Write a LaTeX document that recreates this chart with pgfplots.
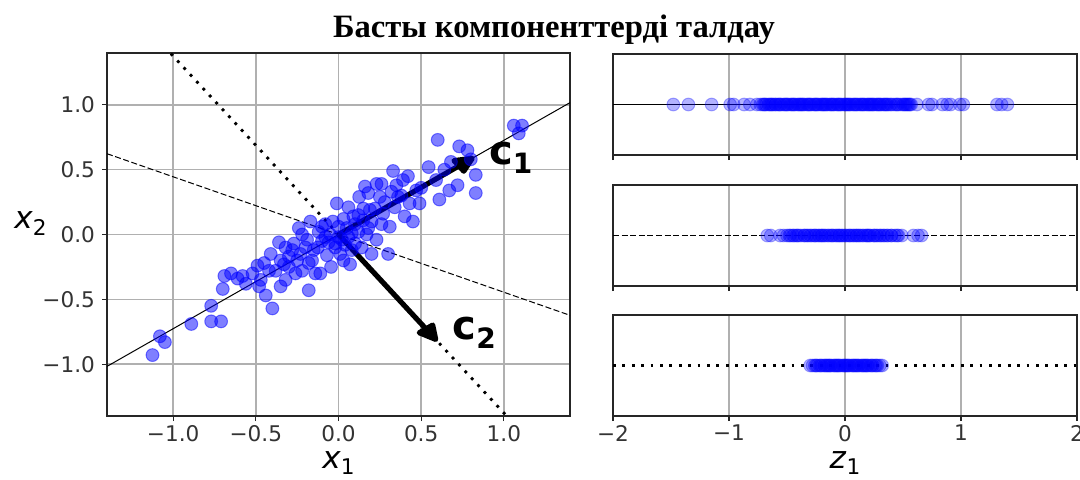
\documentclass[border=0pt]{standalone}
\usepackage{fontspec}
\setmainfont{DejaVu Sans}
\newfontfamily\titlefont{Liberation Serif}
\usepackage{pgfplots}
\pgfplotsset{compat=1.18}
\definecolor{mblue}{rgb}{0,0,1}
\definecolor{gridc}{RGB}{176,176,176}
\tikzset{lbl/.style={font=\fontsize{15.5}{18}\selectfont}}
\pgfplotsset{
  base/.style={
    scale only axis, anchor=south west,
    tick align=outside, xtick pos=lower, ytick pos=left,
    major tick length=2.5pt,
    tick style={black!85, line width=0.6pt},
    axis line style={black!85, line width=0.8pt},
    grid style={gridc, line width=0.7pt},
    tick label style={font=\fontsize{10.8}{12}\selectfont, text=black!80},
    xticklabel style={inner sep=1.8pt},
  },
  rpts/.style={only marks, mark=*, mark size=3.2pt, color=mblue, mark options={fill opacity=0.3, draw opacity=0.3, line width=0.5pt}},
}
\newcommand{\sublabel}[2]{\textit{#1}\raisebox{-0.22em}{\fontsize{10.8}{12}\selectfont #2}}
\newcommand{\cvec}[1]{{\fontsize{20}{23}\selectfont\bfseries c\raisebox{-0.22em}{\fontsize{14}{16}\selectfont #1}}}
\begin{document}
\begin{tikzpicture}
\path[use as bounding box] (0,0) rectangle (540pt,239.5pt);
\node[anchor=base, font=\titlefont\bfseries\fontsize{16.3}{19}\selectfont] at (277pt,221pt) {Басты компоненттерді талдау};
% left panel
\begin{axis}[base, at={(53.5pt,31.5pt)}, width=231.5pt, height=181.5pt,
  xmin=-1.4, xmax=1.4, ymin=-1.4, ymax=1.4,
  xtick={-1,-0.5,0,0.5,1}, xticklabels={−1.0,−0.5,0.0,0.5,1.0},
  ytick={-1,-0.5,0,0.5,1}, yticklabels={−1.0,−0.5,0.0,0.5,1.0},
  grid=major,
  xlabel={\sublabel{x}{1}}, ylabel={\sublabel{x}{2}},
  xlabel style={lbl, at={(axis description cs:0.5,0)}, anchor=base, inner sep=0pt, yshift=-26pt},
  ylabel style={lbl, rotate=-90, at={(axis description cs:0,0.5)}, anchor=base east, inner sep=0pt, xshift=-30pt, yshift=3pt},
  clip=true]
\addplot[black, line width=0.5pt] coordinates {(-1.4,-1.0172) (1.4,1.0172)};
\addplot[black, line width=0.5pt, dash pattern=on 3pt off 1.3pt] coordinates {(-1.4,0.6233) (1.4,-0.6233)};
\addplot[black, line width=1.4pt, dash pattern=on 1.4pt off 3.3pt] coordinates {(-1.4,1.9269) (1.4,-1.9269)};
\addplot[only marks, mark=*, mark size=3.2pt, color=mblue, mark options={fill opacity=0.5, draw opacity=0.5, line width=0.5pt}] table {
-1.125 -0.93
-1.08 -0.785
-1.05 -0.83
-0.89 -0.69
-0.77 -0.55
-0.77 -0.67
-0.71 -0.67
-0.70 -0.42
-0.69 -0.32
-0.65 -0.30
-0.61 -0.34
-0.58 -0.32
-0.56 -0.38
-0.49 -0.24
-0.48 -0.40
-0.47 -0.35
-0.44 -0.47
-0.41 -0.15
-0.40 -0.57
-0.38 -0.28
-0.36 -0.06
-0.35 -0.40
-0.33 -0.23
-0.32 -0.35
-0.30 -0.17
-0.27 -0.07
-0.26 -0.30
-0.24 0.05
-0.23 -0.15
-0.22 -0.28
-0.19 -0.04
-0.18 -0.43
-0.17 0.10
-0.16 -0.20
-0.14 -0.30
-0.125 -0.10
-0.11 -0.30
-0.10 0.06
-0.08 -0.02
-0.07 -0.16
-0.045 -0.25
-0.034 0.10
-0.02 -0.07
-0.01 0.24
0.0 0.06
0.01 -0.15
0.02 -0.04
0.03 -0.20
0.06 0.21
0.07 -0.23
0.08 0.01
0.09 0.14
0.10 -0.07
0.125 0.29
0.14 -0.10
0.15 0.11
0.16 0.37
0.17 0.0
0.18 0.32
0.19 0.19
0.20 -0.15
0.23 0.39
0.23 -0.04
0.25 0.29
0.26 0.39
0.27 0.16
0.30 -0.15
0.31 0.06
0.32 0.33
0.33 0.49
0.34 0.21
0.36 0.29
0.39 0.42
0.40 0.14
0.43 0.24
0.45 0.10
0.47 0.34
0.49 0.24
0.545 0.52
0.59 0.42
0.60 0.73
0.61 0.27
0.64 0.50
0.67 0.34
0.68 0.56
0.72 0.38
0.73 0.68
0.78 0.65
0.80 0.58
0.83 0.46
0.83 0.32
1.06 0.84
1.09 0.78
1.11 0.84
-0.20 -0.10
-0.05 0.00
0.05 0.05
-0.10 -0.05
0.00 -0.02
-0.15 -0.12
0.10 0.08
0.12 0.02
-0.25 -0.20
-0.30 -0.25
0.20 0.10
0.22 0.20
-0.12 0.02
0.03 0.12
0.15 0.20
-0.02 -0.10
0.08 -0.12
-0.35 -0.20
0.28 0.25
0.38 0.30
-0.42 -0.28
-0.52 -0.30
-0.28 -0.12
0.12 0.15
-0.06 -0.06
0.04 -0.08
-0.18 -0.22
0.26 0.08
-0.22 0.00
-0.08 0.08
0.18 0.05
-0.32 -0.10
0.35 0.38
0.50 0.36
0.42 0.45
-0.45 -0.22
0.06 -0.02
};
\addplot[black, line width=2.6pt] coordinates {(0,0) (0.728,0.529)};
\addplot[black, fill=black, line width=2.6pt, line join=round] coordinates {(0.809,0.588) (0.6986,0.5696) (0.7576,0.4885)} -- cycle;
\addplot[black, line width=2.6pt] coordinates {(0,0) (0.529,-0.728)};
\addplot[black, fill=black, line width=2.6pt, line join=round] coordinates {(0.5878,-0.809) (0.5695,-0.6987) (0.4886,-0.7575)} -- cycle;
\node[anchor=base west, inner sep=0pt] at (axis cs:0.909,0.538) {\cvec{1}};
\node[anchor=base west, inner sep=0pt] at (axis cs:0.688,-0.809) {\cvec{2}};
\end{axis}
% right top
\begin{axis}[base, at={(306.5pt,162pt)}, width=232pt, height=50.5pt,
  xmin=-2, xmax=2, ymin=-1, ymax=1, xtick={-2,-1,0,1,2}, xticklabels={}, ytick=\empty, xmajorgrids]
\addplot[black, line width=0.5pt] coordinates {(-2,0) (2,0)};
\addplot[rpts] table {
-1.48 0
-1.35 0
-1.15 0
-0.99 0
-0.96 0
-0.87 0
-0.82 0
-0.76 0
-0.73 0
-0.71 0
-0.69 0
-0.66 0
-0.64 0
-0.62 0
-0.60 0
-0.58 0
-0.55 0
-0.53 0
-0.51 0
-0.49 0
-0.47 0
-0.45 0
-0.43 0
-0.41 0
-0.39 0
-0.37 0
-0.35 0
-0.33 0
-0.31 0
-0.29 0
-0.27 0
-0.25 0
-0.23 0
-0.21 0
-0.19 0
-0.17 0
-0.15 0
-0.13 0
-0.11 0
-0.09 0
-0.07 0
-0.05 0
-0.03 0
-0.01 0
0.01 0
0.03 0
0.05 0
0.07 0
0.09 0
0.11 0
0.13 0
0.15 0
0.17 0
0.19 0
0.21 0
0.23 0
0.25 0
0.27 0
0.29 0
0.31 0
0.33 0
0.35 0
0.37 0
0.39 0
0.42 0
0.45 0
0.48 0
0.51 0
0.53 0
0.55 0
0.57 0
0.62 0
0.72 0
0.75 0
0.84 0
0.88 0
0.91 0
0.99 0
1.02 0
1.31 0
1.35 0
1.40 0
-0.70 0
-0.65 0
-0.60 0
-0.56 0
-0.50 0
-0.46 0
-0.40 0
-0.36 0
-0.30 0
-0.26 0
-0.20 0
-0.16 0
-0.10 0
-0.06 0
0.00 0
0.04 0
0.10 0
0.14 0
0.20 0
0.24 0
0.30 0
0.34 0
0.40 0
0.44 0
0.50 0
0.54 0
-0.68 0
-0.63 0
-0.57 0
-0.52 0
-0.44 0
-0.38 0
-0.32 0
-0.24 0
-0.18 0
-0.12 0
-0.04 0
0.02 0
0.08 0
0.16 0
0.22 0
0.28 0
0.36 0
0.46 0
0.52 0
0.56 0
};
\end{axis}
% right middle
\begin{axis}[base, at={(306.5pt,96.5pt)}, width=232pt, height=50.5pt,
  xmin=-2, xmax=2, ymin=-1, ymax=1, xtick={-2,-1,0,1,2}, xticklabels={}, ytick=\empty, xmajorgrids]
\addplot[black, line width=0.5pt, dash pattern=on 3pt off 1.3pt] coordinates {(-2,0) (2,0)};
\addplot[rpts] table {
-0.67 0
-0.64 0
-0.56 0
-0.53 0
-0.50 0
-0.47 0
-0.44 0
-0.41 0
-0.38 0
-0.35 0
-0.32 0
-0.29 0
-0.26 0
-0.23 0
-0.20 0
-0.17 0
-0.14 0
-0.11 0
-0.08 0
-0.05 0
-0.02 0
0.01 0
0.04 0
0.07 0
0.10 0
0.13 0
0.16 0
0.19 0
0.22 0
0.25 0
0.28 0
0.31 0
0.34 0
0.37 0
0.40 0
0.43 0
0.46 0
0.49 0
0.59 0
0.63 0
0.66 0
-0.45 0
-0.40 0
-0.35 0
-0.30 0
-0.27 0
-0.20 0
-0.18 0
-0.10 0
-0.07 0
0.00 0
0.03 0
0.10 0
0.12 0
0.20 0
0.21 0
0.30 0
0.33 0
0.40 0
-0.25 0
-0.15 0
-0.05 0
0.05 0
0.15 0
0.25 0
-0.48 0
-0.42 0
-0.33 0
-0.22 0
-0.12 0
-0.03 0
0.08 0
0.18 0
0.27 0
0.36 0
0.45 0
};
\end{axis}
% right bottom
\begin{axis}[base, at={(306.5pt,31.5pt)}, width=232pt, height=50.5pt,
  xmin=-2, xmax=2, ymin=-1, ymax=1, xtick={-2,-1,0,1,2}, xticklabels={−2,−1,0,1,2}, ytick=\empty, xmajorgrids,
  xlabel={\sublabel{z}{1}},
  xlabel style={lbl, at={(axis description cs:0.5,0)}, anchor=base, inner sep=0pt, yshift=-26pt}]
\addplot[black, line width=1.4pt, dash pattern=on 1.4pt off 3.3pt] coordinates {(-2,0) (2,0)};
\addplot[rpts] table {
-0.30 0
-0.28 0
-0.26 0
-0.24 0
-0.22 0
-0.20 0
-0.18 0
-0.16 0
-0.14 0
-0.12 0
-0.10 0
-0.08 0
-0.06 0
-0.04 0
-0.02 0
0.00 0
0.02 0
0.04 0
0.06 0
0.08 0
0.10 0
0.12 0
0.14 0
0.16 0
0.18 0
0.20 0
0.22 0
0.24 0
0.26 0
0.28 0
0.30 0
0.32 0
-0.25 0
-0.21 0
-0.17 0
-0.13 0
-0.09 0
-0.05 0
-0.01 0
0.03 0
0.07 0
0.11 0
0.15 0
0.19 0
0.23 0
0.27 0
-0.15 0
-0.07 0
0.01 0
0.09 0
0.17 0
};
\end{axis}
\end{tikzpicture}
\end{document}
